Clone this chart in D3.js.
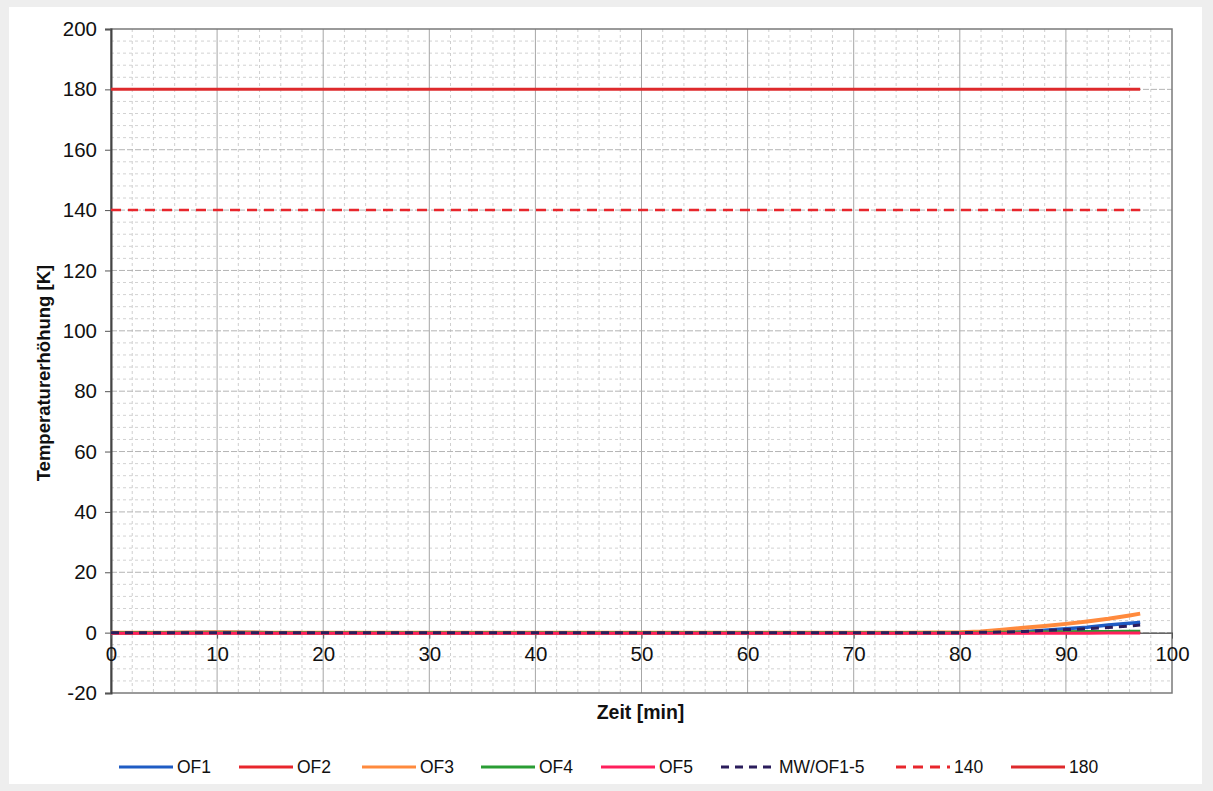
<!DOCTYPE html>
<html>
<head>
<meta charset="utf-8">
<script src="https://cdn.jsdelivr.net/npm/d3@7"></script>
<style>
  body { margin: 0; background: #eeeeee; }
  svg { display: block; }
  text { font-family: "Liberation Sans", Arial, sans-serif; fill: #111; }
</style>
</head>
<body>
<div id="graph"></div>
<script>
// time axis (min) and measured temperature rise (K)
var time = [0, 5, 10, 15, 20, 25, 30, 35, 40, 45, 50, 55, 60, 65, 70, 75, 80, 82, 84, 86, 88, 90, 92, 94, 96, 97];
var of1  = [0, 0, 0.1, 0, 0, 0, 0, 0, 0, 0, 0, 0, 0, 0, 0, 0, 0, 0.05, 0.1, 0.3, 0.8, 1.3, 1.8, 2.5, 3.1, 3.4];
var of2  = [0, 0, 0, 0, 0, 0, 0, 0, 0, 0, 0, 0, 0, 0, 0, 0, 0, 0, 0, 0, 0.1, 0.1, 0.2, 0.2, 0.3, 0.3];
var of3  = [0, 0, 0.1, 0, 0, 0, 0, 0, 0, 0, 0, 0, 0, 0, 0, 0, 0.1, 0.4, 1.0, 1.6, 2.2, 2.9, 3.7, 4.6, 5.7, 6.3];
var of4  = [0, 0, 0, 0, 0, 0, 0, 0, 0, 0, 0, 0, 0, 0, 0, 0, 0, 0, 0.1, 0.1, 0.2, 0.3, 0.4, 0.4, 0.5, 0.5];
var of5  = [-0.2, -0.2, -0.2, -0.2, -0.2, -0.2, -0.2, -0.2, -0.2, -0.2, -0.2, -0.2, -0.2, -0.2, -0.2, -0.2, -0.2, -0.2, -0.2, -0.2, -0.2, -0.2, -0.2, -0.1, -0.1, -0.1];
var mw   = [0, 0, 0, 0, 0, 0, 0, 0, 0, 0, 0, 0, 0, 0, 0, 0, 0, 0.1, 0.2, 0.4, 0.7, 1.0, 1.3, 1.7, 2.2, 2.5];

// limit lines
var limTime = [0, 97];
var lim140 = [140, 140];
var lim180 = [180, 180];

// axis ticks
var xTicks = [0, 10, 20, 30, 40, 50, 60, 70, 80, 90, 100];
var yTicks = [-20, 0, 20, 40, 60, 80, 100, 120, 140, 160, 180, 200];

var seriesNames = ["OF1", "OF2", "OF3", "OF4", "OF5", "MW/OF1-5", "140", "180"];
var seriesColors = ["#1f5cc4", "#e8262c", "#ff8a3d", "#2a9d34", "#ff1f5c", "#2b1d5c", "#e8262c", "#de2a2c"];
var seriesDash = [null, null, null, null, null, "8,6", "10,7", null];

var W = 1213, H = 791;
var margin = {top: 29, right: 41, bottom: 98, left: 111};
var width = W - margin.left - margin.right;
var height = H - margin.top - margin.bottom;

var svg = d3.select("#graph").append("svg")
    .attr("width", W)
    .attr("height", H);

// paper
svg.append("rect")
    .attr("x", 9).attr("y", 7)
    .attr("width", W - 20).attr("height", H - 14)
    .attr("fill", "#ffffff");

var x = d3.scaleLinear().domain([0, 100]).range([0, width]);
var y = d3.scaleLinear().domain([-20, 200]).range([height, 0]);

var g = svg.append("g")
    .attr("transform", "translate(" + margin.left + "," + margin.top + ")");

// minor grid
g.append("g").selectAll("line")
    .data(d3.range(0, 101, 2).filter(d => d % 10 != 0))
    .enter().append("line")
    .attr("x1", d => x(d)).attr("x2", d => x(d))
    .attr("y1", 0).attr("y2", height)
    .attr("stroke", "#cfcfcf").attr("stroke-dasharray", "3,3");

g.append("g").selectAll("line")
    .data(d3.range(-20, 201, 4).filter(d => d % 20 != 0))
    .enter().append("line")
    .attr("x1", 0).attr("x2", width)
    .attr("y1", d => y(d)).attr("y2", d => y(d))
    .attr("stroke", "#d2d2d2").attr("stroke-dasharray", "3,3");

// major grid
g.append("g").selectAll("line")
    .data(xTicks.slice(1, -1))
    .enter().append("line")
    .attr("x1", d => x(d)).attr("x2", d => x(d))
    .attr("y1", 0).attr("y2", height)
    .attr("stroke", "#a6a6a6");

g.append("g").selectAll("line")
    .data(yTicks.slice(1, -1))
    .enter().append("line")
    .attr("x1", 0).attr("x2", width)
    .attr("y1", d => y(d)).attr("y2", d => y(d))
    .attr("stroke", "#b4b4b4").attr("stroke-dasharray", "6,2");

// frame
g.append("rect")
    .attr("width", width).attr("height", height)
    .attr("fill", "none")
    .attr("stroke", "#7a7a7a").attr("stroke-width", 1.5);

// Y axis
var yAxis = g.append("g")
    .call(d3.axisLeft(y).tickValues(yTicks).tickFormat(d => String(d)).tickSize(6).tickPadding(8));
yAxis.select(".domain").attr("stroke", "#444").attr("stroke-width", 2);
yAxis.selectAll(".tick line").attr("stroke", "#555");
yAxis.selectAll("text").style("font-size", "20.5px")
    .style("font-family", "Liberation Sans, Arial, sans-serif").attr("fill", "#111");

// X axis at zero
var xAxis = g.append("g")
    .attr("transform", "translate(0," + y(0) + ")")
    .call(d3.axisBottom(x).tickValues(xTicks).tickFormat(d => String(d)).tickSize(6).tickPadding(8).tickSizeOuter(0));
xAxis.select(".domain").attr("stroke", "#666").attr("stroke-width", 1.5);
xAxis.selectAll(".tick line").attr("stroke", "#555");
xAxis.selectAll("text").style("font-size", "20.5px")
    .style("font-family", "Liberation Sans, Arial, sans-serif").attr("fill", "#111");

// axis titles
g.append("text")
    .attr("x", width / 2 - 1)
    .attr("y", height + 26)
    .attr("text-anchor", "middle")
    .style("font-size", "19.5px")
    .style("font-weight", "bold")
    .text("Zeit [min]");

g.append("text")
    .attr("transform", "rotate(-90)")
    .attr("x", -(y(86)))
    .attr("y", -61)
    .attr("text-anchor", "middle")
    .style("font-size", "18.5px")
    .style("font-weight", "bold")
    .text("Temperaturerhöhung [K]");

// lines
var line = d3.line()
    .x(d => x(d[0]))
    .y(d => y(d[1]));

function draw(ts, vals, i, w) {
    g.append("path")
        .attr("d", line(d3.zip(ts, vals)))
        .attr("fill", "none")
        .attr("stroke", seriesColors[i])
        .attr("stroke-width", w)
        .attr("stroke-dasharray", seriesDash[i])
        .attr("stroke-linejoin", "round");
}

draw(limTime, lim180, 7, 3);
draw(limTime, lim140, 6, 2.5);
draw(time, of1, 0, 3.5);
draw(time, of2, 1, 3);
draw(time, of3, 2, 4);
draw(time, of4, 3, 3);
draw(time, of5, 4, 3);
draw(time, mw, 5, 3);

// legend, items laid out like the original (left edge of each sample line)
var legendX = [119, 239, 362, 481, 601, 721, 896, 1011];
var legend = svg.append("g").attr("transform", "translate(0,767)");
seriesNames.forEach(function (name, i) {
    var item = legend.append("g").attr("transform", "translate(" + legendX[i] + ",0)");
    item.append("line")
        .attr("x1", 0).attr("x2", 54)
        .attr("y1", 0).attr("y2", 0)
        .attr("stroke", seriesColors[i])
        .attr("stroke-width", 3)
        .attr("stroke-dasharray", seriesDash[i]);
    item.append("text")
        .attr("x", 58).attr("y", 6)
        .style("font-size", "17.5px")
        .text(name);
});
</script>
</body>
</html>
